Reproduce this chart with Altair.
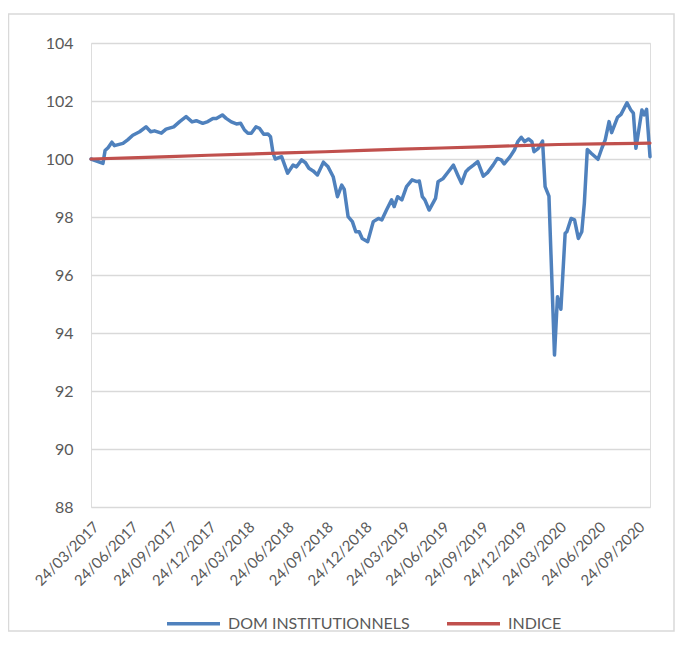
import altair as alt
import pandas as pd

# ---- Data ----
series_names = ["DOM INSTITUTIONNELS", "INDICE"]
series_colors = ["#4F81BD", "#C0504D"]

dom_dates = [
    "2017-03-24", "2017-04-21", "2017-04-26", "2017-05-03", "2017-05-12", "2017-05-18",
    "2017-06-07", "2017-06-18", "2017-06-30", "2017-07-16", "2017-07-31", "2017-08-11",
    "2017-08-20", "2017-09-05", "2017-09-16", "2017-10-04", "2017-10-18", "2017-11-02",
    "2017-11-16", "2017-11-26", "2017-12-11", "2017-12-23", "2018-01-04", "2018-01-12",
    "2018-01-26", "2018-02-04", "2018-02-16", "2018-02-28", "2018-03-10", "2018-03-19",
    "2018-03-27", "2018-04-04", "2018-04-15", "2018-04-23", "2018-05-03", "2018-05-13",
    "2018-05-19", "2018-05-25", "2018-05-30", "2018-06-14", "2018-06-28", "2018-07-11",
    "2018-07-19", "2018-07-31", "2018-08-09", "2018-08-17", "2018-08-27", "2018-09-06",
    "2018-09-20", "2018-10-01", "2018-10-13", "2018-10-23", "2018-11-02", "2018-11-08",
    "2018-11-17", "2018-11-27", "2018-12-05", "2018-12-13", "2018-12-20", "2019-01-02",
    "2019-01-15", "2019-01-27", "2019-02-04", "2019-02-15", "2019-02-27", "2019-03-05",
    "2019-03-13", "2019-03-23", "2019-04-03", "2019-04-16", "2019-04-27", "2019-05-03",
    "2019-05-10", "2019-05-16", "2019-05-26", "2019-06-10", "2019-06-16", "2019-06-28",
    "2019-07-10", "2019-07-22", "2019-08-01", "2019-08-10", "2019-08-20", "2019-08-28",
    "2019-09-07", "2019-09-17", "2019-09-30", "2019-10-10", "2019-10-23", "2019-11-02",
    "2019-11-11", "2019-11-18", "2019-12-02", "2019-12-12", "2019-12-20", "2019-12-28",
    "2020-01-05", "2020-01-14", "2020-01-22", "2020-01-27", "2020-02-06", "2020-02-16",
    "2020-02-22", "2020-03-02", "2020-03-15", "2020-03-22", "2020-03-30", "2020-04-09",
    "2020-04-13", "2020-04-23", "2020-05-01", "2020-05-10", "2020-05-18", "2020-05-24",
    "2020-05-31", "2020-06-09", "2020-06-25", "2020-07-04", "2020-07-12", "2020-07-21",
    "2020-07-27", "2020-08-10", "2020-08-18", "2020-09-01", "2020-09-10", "2020-09-16",
    "2020-09-22", "2020-10-06", "2020-10-11", "2020-10-17", "2020-10-25",
]
dom_values = [
    100.00, 99.85, 100.29, 100.39, 100.58, 100.46,
    100.54, 100.66, 100.82, 100.94, 101.11, 100.94,
    100.97, 100.89, 101.03, 101.11, 101.29, 101.46,
    101.28, 101.32, 101.23, 101.29, 101.40, 101.40,
    101.52, 101.40, 101.28, 101.21, 101.23, 101.00,
    100.89, 100.89, 101.11, 101.06, 100.85, 100.86,
    100.77, 100.20, 100.00, 100.08, 99.51, 99.79,
    99.73, 99.97, 99.87, 99.68, 99.59, 99.45,
    99.89, 99.73, 99.39, 98.70, 99.10, 98.95,
    98.01, 97.84, 97.49, 97.49, 97.26, 97.15,
    97.84, 97.95, 97.90, 98.24, 98.59, 98.36,
    98.70, 98.59, 99.05, 99.28, 99.22, 99.24,
    98.70, 98.59, 98.24, 98.64, 99.22, 99.33,
    99.56, 99.79, 99.45, 99.16, 99.56, 99.68,
    99.79, 99.91, 99.41, 99.53, 99.79, 100.02,
    99.97, 99.83, 100.08, 100.31, 100.60, 100.75,
    100.60, 100.69, 100.60, 100.25, 100.37, 100.62,
    99.05, 98.72, 93.24, 95.25, 94.82, 97.44,
    97.49, 97.95, 97.90, 97.26, 97.49, 98.47,
    100.33, 100.20, 99.99, 100.37, 100.66, 101.29,
    100.91, 101.44, 101.54, 101.94, 101.69, 101.58,
    100.37, 101.69, 101.52, 101.71, 100.08,
]

indice_dates = [
    "2017-03-24", "2017-06-24", "2017-09-24", "2017-12-24", "2018-03-24", "2018-06-24",
    "2018-09-24", "2018-12-24", "2019-03-24", "2019-06-24", "2019-09-24", "2019-12-24",
    "2020-03-24", "2020-06-24", "2020-09-24", "2020-10-25",
]
indice_values = [
    100.00, 100.04, 100.08, 100.13, 100.17, 100.21,
    100.25, 100.30, 100.34, 100.38, 100.42, 100.46,
    100.50, 100.52, 100.54, 100.55,
]

quarter_ticks = [
    "2017-03-24", "2017-06-24", "2017-09-24", "2017-12-24", "2018-03-24",
    "2018-06-24", "2018-09-24", "2018-12-24", "2019-03-24", "2019-06-24",
    "2019-09-24", "2019-12-24", "2020-03-24", "2020-06-24", "2020-09-24",
]
x_domain = ["2017-03-24", "2020-10-25"]
y_ticks = [88, 90, 92, 94, 96, 98, 100, 102, 104]

# ---- Build tables ----
df_dom = pd.DataFrame({"date": dom_dates, "valeur": dom_values, "serie": series_names[0]})
df_ind = pd.DataFrame({"date": indice_dates, "valeur": indice_values, "serie": series_names[1]})


def to_dt(s):
    y, m, d = (int(p) for p in s.split("-"))
    return alt.DateTime(year=y, month=m, date=d, utc=True)


FONT = "Lato"
TEXT = "#595959"
GRID = "#d9d9d9"

x_enc = alt.X(
    "date:T",
    scale=alt.Scale(type="utc", domain=[to_dt(s) for s in x_domain]),
    axis=alt.Axis(
        title=None,
        values=[to_dt(s) for s in quarter_ticks],
        labelExpr="utcFormat(datum.value, '%d/%m/%Y')",
        labelAngle=315,
        labelFont=FONT,
        labelFontSize=15,
        labelColor=TEXT,
        labelPadding=12,
        labelOverlap=False,
        grid=False,
        domain=False,
        ticks=False,
        tickSize=0,
    ),
)
y_enc = alt.Y(
    "valeur:Q",
    scale=alt.Scale(domain=[88, 104], nice=False, zero=False),
    axis=alt.Axis(
        title=None,
        values=y_ticks,
        labelFont=FONT,
        labelFontSize=16,
        labelColor=TEXT,
        labelPadding=18,
        grid=True,
        gridColor=GRID,
        gridWidth=1.4,
        domain=False,
        ticks=False,
        tickSize=0,
    ),
)
color_enc = alt.Color(
    "serie:N",
    scale=alt.Scale(domain=series_names, range=series_colors),
    legend=alt.Legend(
        title=None,
        orient="none",
        direction="horizontal",
        legendX=74,
        legendY=552,
        symbolType="stroke",
        symbolSize=2809,
        symbolStrokeWidth=3.5,
        labelFont=FONT,
        labelFontSize=16,
        labelColor=TEXT,
        labelOffset=6,
        labelLimit=400,
        columnPadding=30,
    ),
)

frame = alt.Chart(pd.DataFrame({"k": [0]})).mark_rect(
    fill="transparent", stroke=GRID, strokeWidth=1.5
).encode(
    x=alt.value(-82.5), x2=alt.value(583), y=alt.value(-29), y2=alt.value(588)
)

line_dom = alt.Chart(df_dom).mark_line(
    strokeWidth=3.5, strokeJoin="round", strokeCap="round"
).encode(x=x_enc, y=y_enc, color=color_enc)

line_ind = alt.Chart(df_ind).mark_line(
    strokeWidth=3.2, strokeJoin="round", strokeCap="round"
).encode(x=x_enc, y=y_enc, color=color_enc)

chart = alt.layer(frame, line_dom, line_ind).properties(
    width=559,
    height=464,
    autosize=alt.AutoSizeParams(type="none"),
    padding={"left": 83, "top": 35, "right": 25, "bottom": 125},
).configure_view(stroke=None).configure(background="white")

chart.save("out.html", embed_options={"renderer": "svg", "actions": False})
